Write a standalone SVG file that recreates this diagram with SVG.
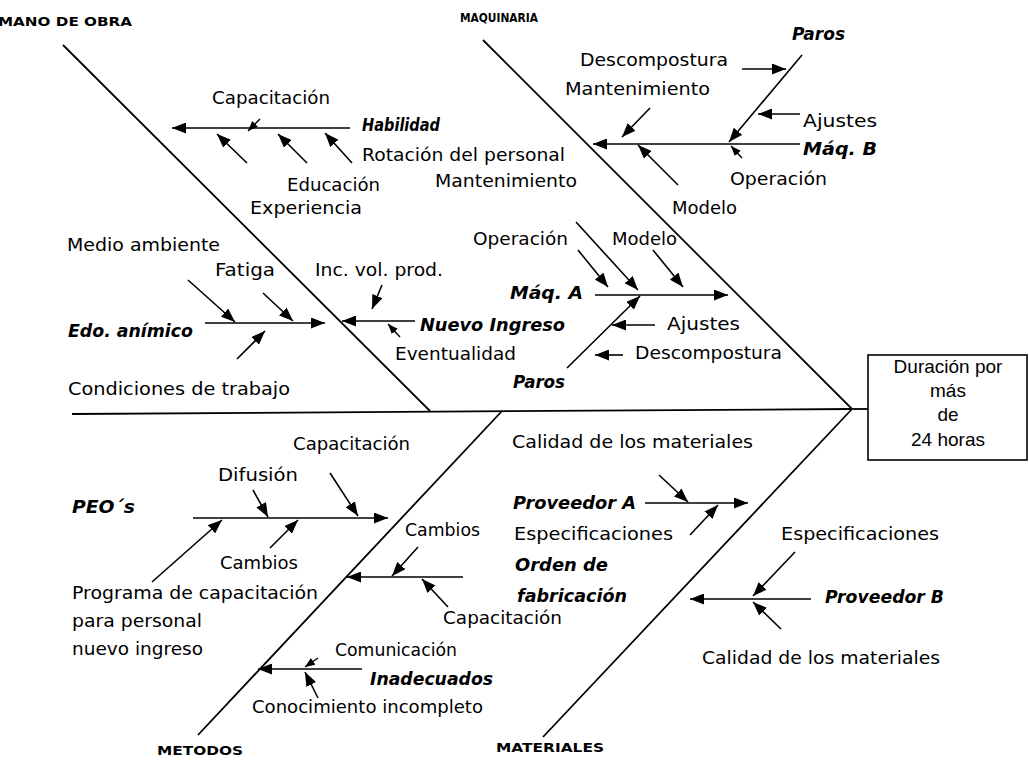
<svg xmlns="http://www.w3.org/2000/svg" width="1029" height="763" viewBox="0 0 1029 763">
<defs>
<style>
.t{font-family:"DejaVu Sans","Liberation Sans",sans-serif;font-size:18px;fill:#000}
.bi{font-weight:bold;font-style:italic;font-size:17px}
.cat{font-weight:bold;font-size:12px}
.bx{font-family:"Liberation Sans",Arial,sans-serif;font-size:19px;fill:#000;text-anchor:middle}
.bone{stroke:#000;stroke-width:1.8;fill:none}
.arr{stroke:#000;stroke-width:1.6;fill:none;marker-end:url(#ah)}
.arrs{stroke:#000;stroke-width:1.4;fill:none;marker-end:url(#ahs)}
</style>
<marker id="ah" viewBox="0 0 14 11" refX="14" refY="5.5" markerWidth="14" markerHeight="11" markerUnits="userSpaceOnUse" orient="auto"><path d="M0,0 L14,5.5 L0,11 z" fill="#000"/></marker>
<marker id="ahs" viewBox="0 0 10 8" refX="10" refY="4" markerWidth="10" markerHeight="8" markerUnits="userSpaceOnUse" orient="auto"><path d="M0,0 L10,4 L0,8 z" fill="#000"/></marker>
</defs>
<rect width="1029" height="763" fill="#fff"/>
<g id="connectors">
<line class="bone" x1="72" y1="414" x2="852" y2="409"/>
<line class="bone" x1="852" y1="409" x2="868" y2="409"/>
<line class="bone" x1="63" y1="45" x2="430" y2="411"/>
<line class="bone" x1="483" y1="40" x2="852" y2="409"/>
<line class="bone" x1="198" y1="735" x2="502" y2="411"/>
<line class="bone" x1="543" y1="737" x2="852" y2="409"/>
<line class="arr" x1="350" y1="128" x2="172" y2="128"/>
<line class="arrs" x1="260" y1="119" x2="248" y2="131"/>
<line class="arr" x1="247" y1="163" x2="217" y2="134"/>
<line class="arr" x1="307" y1="163" x2="278" y2="134"/>
<line class="arr" x1="352" y1="163" x2="325" y2="133"/>
<line class="arr" x1="800" y1="144" x2="593" y2="144"/>
<line class="arr" x1="802" y1="55" x2="729" y2="142"/>
<line class="arr" x1="742" y1="69" x2="786" y2="69"/>
<line class="arr" x1="800" y1="114" x2="758" y2="114"/>
<line class="arrs" x1="742" y1="158" x2="731" y2="146"/>
<line class="arr" x1="650" y1="108" x2="622" y2="137"/>
<line class="arr" x1="678" y1="185" x2="638" y2="145"/>
<line class="arr" x1="205" y1="323" x2="325" y2="323"/>
<line class="arr" x1="188" y1="280" x2="235" y2="322"/>
<line class="arr" x1="263" y1="293" x2="293" y2="321"/>
<line class="arr" x1="237" y1="359" x2="265" y2="331"/>
<line class="arr" x1="415" y1="321" x2="342" y2="321"/>
<line class="arr" x1="382" y1="285" x2="372" y2="309"/>
<line class="arrs" x1="400" y1="337" x2="388" y2="324"/>
<line class="arr" x1="595" y1="295" x2="728" y2="295"/>
<line class="arr" x1="578" y1="250" x2="608" y2="287"/>
<line class="arr" x1="576" y1="222" x2="638" y2="290"/>
<line class="arr" x1="653" y1="250" x2="683" y2="287"/>
<line class="arr" x1="567" y1="368" x2="640" y2="296"/>
<line class="arr" x1="655" y1="325" x2="612" y2="325"/>
<line class="arr" x1="623" y1="355" x2="595" y2="355"/>
<line class="arr" x1="193" y1="518" x2="388" y2="518"/>
<line class="arr" x1="253" y1="490" x2="268" y2="517"/>
<line class="arr" x1="330" y1="473" x2="358" y2="516"/>
<line class="arr" x1="152" y1="582" x2="222" y2="520"/>
<line class="arr" x1="270" y1="548" x2="298" y2="520"/>
<line class="arr" x1="463" y1="577" x2="347" y2="577"/>
<line class="arr" x1="418" y1="547" x2="392" y2="576"/>
<line class="arr" x1="448" y1="607" x2="422" y2="579"/>
<line class="arr" x1="362" y1="669" x2="258" y2="669"/>
<line class="arrs" x1="318" y1="658" x2="305" y2="667"/>
<line class="arr" x1="318" y1="698" x2="305" y2="672"/>
<line class="arr" x1="645" y1="503" x2="748" y2="503"/>
<line class="arr" x1="659" y1="475" x2="688" y2="502"/>
<line class="arr" x1="690" y1="535" x2="718" y2="505"/>
<line class="arr" x1="811" y1="599" x2="690" y2="599"/>
<line class="arr" x1="795" y1="552" x2="753" y2="596"/>
<line class="arr" x1="781" y1="629" x2="753" y2="602"/>
</g>
<g id="effect">
<rect x="868" y="355" width="159" height="105" fill="#fff" stroke="#000" stroke-width="1.6"/>
<text class="bx" x="948" y="373">Duración por</text>
<text class="bx" x="948" y="397">más</text>
<text class="bx" x="948" y="421">de</text>
<text class="bx" x="948" y="446">24 horas</text>
</g>
<g id="cat-mano"><text class="t cat" x="-2" y="26" textLength="134" lengthAdjust="spacingAndGlyphs">MANO DE OBRA</text></g>
<g id="cat-maq"><text class="t cat" x="460" y="22" textLength="78" lengthAdjust="spacingAndGlyphs">MAQUINARIA</text></g>
<g id="cat-met"><text class="t cat" x="157" y="755" textLength="86" lengthAdjust="spacingAndGlyphs">METODOS</text></g>
<g id="cat-mat"><text class="t cat" x="496" y="752" textLength="108" lengthAdjust="spacingAndGlyphs">MATERIALES</text></g>
<g id="n1"><text class="t" x="212" y="104" textLength="118" lengthAdjust="spacingAndGlyphs">Capacitación</text></g>
<g id="n2"><text class="t bi" x="362" y="131" textLength="78" lengthAdjust="spacingAndGlyphs">Habilidad</text></g>
<g id="n3"><text class="t" x="362" y="161" textLength="203" lengthAdjust="spacingAndGlyphs">Rotación del personal</text></g>
<g id="n4"><text class="t" x="287" y="191" textLength="93" lengthAdjust="spacingAndGlyphs">Educación</text></g>
<g id="n5"><text class="t" x="250" y="214" textLength="112" lengthAdjust="spacingAndGlyphs">Experiencia</text></g>
<g id="n6"><text class="t bi" x="792" y="40" textLength="53" lengthAdjust="spacingAndGlyphs">Paros</text></g>
<g id="n7"><text class="t" x="580" y="66" textLength="148" lengthAdjust="spacingAndGlyphs">Descompostura</text></g>
<g id="n8"><text class="t" x="565" y="95" textLength="145" lengthAdjust="spacingAndGlyphs">Mantenimiento</text></g>
<g id="n9"><text class="t" x="803" y="127" textLength="74" lengthAdjust="spacingAndGlyphs">Ajustes</text></g>
<g id="n10"><text class="t bi" x="803" y="155" textLength="74" lengthAdjust="spacingAndGlyphs">Máq. B</text></g>
<g id="n11"><text class="t" x="730" y="185" textLength="97" lengthAdjust="spacingAndGlyphs">Operación</text></g>
<g id="n12"><text class="t" x="672" y="214">Modelo</text></g>
<g id="n13"><text class="t" x="435" y="187" textLength="142" lengthAdjust="spacingAndGlyphs">Mantenimiento</text></g>
<g id="n14"><text class="t" x="67" y="251" textLength="153" lengthAdjust="spacingAndGlyphs">Medio ambiente</text></g>
<g id="n15"><text class="t" x="215" y="276" textLength="60" lengthAdjust="spacingAndGlyphs">Fatiga</text></g>
<g id="n16"><text class="t" x="315" y="276" textLength="128" lengthAdjust="spacingAndGlyphs">Inc. vol. prod.</text></g>
<g id="n17"><text class="t bi" x="68" y="337" textLength="125" lengthAdjust="spacingAndGlyphs">Edo. anímico</text></g>
<g id="n18"><text class="t bi" x="420" y="331" textLength="145" lengthAdjust="spacingAndGlyphs">Nuevo Ingreso</text></g>
<g id="n19"><text class="t" x="395" y="360" textLength="121" lengthAdjust="spacingAndGlyphs">Eventualidad</text></g>
<g id="n20"><text class="t" x="68" y="395" textLength="222" lengthAdjust="spacingAndGlyphs">Condiciones de trabajo</text></g>
<g id="n21"><text class="t" x="473" y="245" textLength="95" lengthAdjust="spacingAndGlyphs">Operación</text></g>
<g id="n22"><text class="t" x="612" y="245">Modelo</text></g>
<g id="n23"><text class="t bi" x="510" y="299" textLength="73" lengthAdjust="spacingAndGlyphs">Máq. A</text></g>
<g id="n24"><text class="t" x="667" y="330" textLength="73" lengthAdjust="spacingAndGlyphs">Ajustes</text></g>
<g id="n25"><text class="t" x="635" y="359" textLength="147" lengthAdjust="spacingAndGlyphs">Descompostura</text></g>
<g id="n26"><text class="t bi" x="513" y="388" textLength="52" lengthAdjust="spacingAndGlyphs">Paros</text></g>
<g id="n27"><text class="t" x="293" y="450" textLength="117" lengthAdjust="spacingAndGlyphs">Capacitación</text></g>
<g id="n28"><text class="t" x="218" y="481" textLength="80" lengthAdjust="spacingAndGlyphs">Difusión</text></g>
<g id="n29"><text class="t bi" x="72" y="513" textLength="63" lengthAdjust="spacingAndGlyphs">PEO´s</text></g>
<g id="n30"><text class="t" x="220" y="569" textLength="78" lengthAdjust="spacingAndGlyphs">Cambios</text></g>
<g id="n31"><text class="t" x="72" y="599" textLength="246" lengthAdjust="spacingAndGlyphs">Programa de capacitación</text></g>
<g id="n32"><text class="t" x="72" y="627" textLength="130" lengthAdjust="spacingAndGlyphs">para personal</text></g>
<g id="n33"><text class="t" x="72" y="655" textLength="131" lengthAdjust="spacingAndGlyphs">nuevo ingreso</text></g>
<g id="n34"><text class="t" x="405" y="536" textLength="75" lengthAdjust="spacingAndGlyphs">Cambios</text></g>
<g id="n35"><text class="t" x="443" y="624" textLength="119" lengthAdjust="spacingAndGlyphs">Capacitación</text></g>
<g id="n36"><text class="t" x="335" y="656" textLength="122" lengthAdjust="spacingAndGlyphs">Comunicación</text></g>
<g id="n37"><text class="t bi" x="370" y="685" textLength="123" lengthAdjust="spacingAndGlyphs">Inadecuados</text></g>
<g id="n38"><text class="t" x="252" y="713" textLength="231" lengthAdjust="spacingAndGlyphs">Conocimiento incompleto</text></g>
<g id="n39"><text class="t" x="512" y="448" textLength="241" lengthAdjust="spacingAndGlyphs">Calidad de los materiales</text></g>
<g id="n40"><text class="t bi" x="513" y="509" textLength="123" lengthAdjust="spacingAndGlyphs">Proveedor A</text></g>
<g id="n41"><text class="t" x="514" y="540" textLength="159" lengthAdjust="spacingAndGlyphs">Especificaciones</text></g>
<g id="n42"><text class="t bi" x="515" y="571" textLength="93" lengthAdjust="spacingAndGlyphs">Orden de</text></g>
<g id="n43"><text class="t bi" x="517" y="602" textLength="110" lengthAdjust="spacingAndGlyphs">fabricación</text></g>
<g id="n44"><text class="t" x="781" y="540" textLength="158" lengthAdjust="spacingAndGlyphs">Especificaciones</text></g>
<g id="n45"><text class="t bi" x="825" y="603" textLength="119" lengthAdjust="spacingAndGlyphs">Proveedor B</text></g>
<g id="n46"><text class="t" x="702" y="664" textLength="238" lengthAdjust="spacingAndGlyphs">Calidad de los materiales</text></g>
</svg>
